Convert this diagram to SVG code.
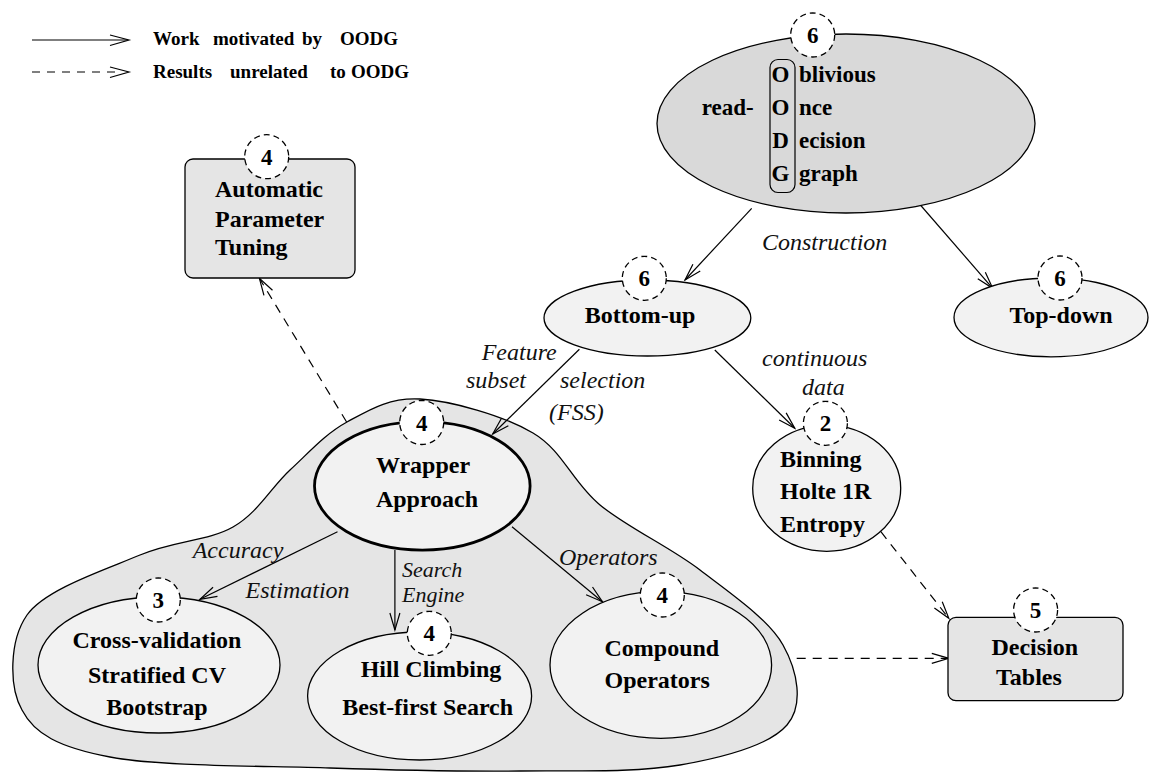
<svg xmlns="http://www.w3.org/2000/svg" width="1152" height="774" viewBox="0 0 1152 774">
<defs>
<style>
.b{font-family:"Liberation Serif","Times New Roman",serif;font-weight:bold;font-size:24px;fill:#000}
.bl{font-family:"Liberation Serif","Times New Roman",serif;font-weight:bold;font-size:19px;fill:#000}
.it{font-family:"Liberation Serif","Times New Roman",serif;font-style:italic;font-size:24px;fill:#111}
.num{font-family:"Liberation Serif","Times New Roman",serif;font-weight:bold;font-size:23px;fill:#000;text-anchor:middle}
.c{text-anchor:middle}
.nd{stroke:#000;stroke-width:1.3}
.badge{fill:#fff;stroke:#000;stroke-width:1.3;stroke-dasharray:6 4}
.solid{fill:none;stroke:#000;stroke-width:1.2;marker-end:url(#ah)}
.dash{fill:none;stroke:#000;stroke-width:1.2;stroke-dasharray:9 7;marker-end:url(#ah)}
</style>
<marker id="ah" viewBox="-18 -7 20 14" refX="0" refY="0" markerWidth="20" markerHeight="14" markerUnits="userSpaceOnUse" orient="auto">
<path d="M-17,-5 L0,0 L-17,5" fill="none" stroke="#000" stroke-width="1.2"/>
</marker>
</defs>
<rect width="1152" height="774" fill="#fff"/>

<g id="legend">
<line x1="32" y1="40" x2="128" y2="40" stroke="#000" stroke-width="1.2"/>
<polyline points="110,35 129,40 110,45.5" fill="none" stroke="#000" stroke-width="1.2"/>
<text class="bl" y="44.5"><tspan x="153">Work</tspan><tspan x="213">motivated</tspan><tspan x="302">by</tspan><tspan x="340">OODG</tspan></text>
<line x1="32" y1="72" x2="118" y2="72" stroke="#000" stroke-width="1.2" stroke-dasharray="8 7"/>
<polyline points="110,67 129,72 110,77.5" fill="none" stroke="#000" stroke-width="1.2"/>
<text class="bl" y="77.5"><tspan x="153">Results</tspan><tspan x="230">unrelated</tspan><tspan x="330">to</tspan><tspan x="351">OODG</tspan></text>
</g>

<g id="wrapper-region">
<path d="M420,399 C451,400.8 503,415.3 533,433 C563,450.7 572.2,482.2 600,505 C627.8,527.8 669.5,546.7 700,570 C730.5,593.3 768.5,619.2 783,645 C797.5,670.8 804.2,705 787,725 C769.8,745 724.5,757.3 680,765 C635.5,772.7 578.3,770.5 520,771 C461.7,771.5 398.3,770.3 330,768 C261.7,765.7 161.7,766.7 110,757 C58.3,747.3 34.2,733.7 22,710 C9,687 9,641 27,615 C45,589.2 105.3,569.7 140,555 C174.7,540.3 208,541.2 233,527 C258,512.8 271,487.5 290,470 C309,452.5 325.3,433.8 347,422 C368.7,410.2 389,397.2 420,399 Z" fill="#e5e5e5" stroke="#000" stroke-width="1.3"/>
</g>

<g id="connectors">
<line class="solid" x1="751.7" y1="208.3" x2="685" y2="280"/>
<line class="solid" x1="911.7" y1="195" x2="992.7" y2="288.3"/>
<line class="solid" x1="579.4" y1="349.3" x2="492.7" y2="434"/>
<line class="solid" x1="714.8" y1="350" x2="794.8" y2="428.3"/>
<line class="solid" x1="337.5" y1="531.7" x2="200" y2="599.3"/>
<line class="solid" x1="394.9" y1="550" x2="394.9" y2="630"/>
<line class="solid" x1="512" y1="526.7" x2="602.4" y2="601.7"/>
<line class="dash" x1="880.9" y1="531.7" x2="948.8" y2="618.3"/>
<line class="dash" x1="796.7" y1="658.3" x2="948.8" y2="658.3"/>
<line class="dash" x1="346.6" y1="422" x2="259.4" y2="278.3"/>
<text class="it" x="762" y="250">Construction</text>
<text class="it" x="481.7" y="360">Feature</text>
<text class="it" x="466" y="388">subset</text>
<text class="it" x="560" y="388">selection</text>
<text class="it" x="549" y="420">(FSS)</text>
<text class="it" x="762" y="366">continuous</text>
<text class="it" x="802" y="395">data</text>
<text class="it" x="192.7" y="558.3">Accuracy</text>
<text class="it" x="245.6" y="598.3">Estimation</text>
<text class="it" x="402" y="576.5" style="font-size:22px">Search</text>
<text class="it" x="402" y="601.5" style="font-size:22px">Engine</text>
<text class="it" x="559" y="565">Operators</text>
</g>

<g id="node-automatic">
<rect x="185" y="159" width="170" height="119" rx="8" fill="#e5e5e5" class="nd"/>
<circle class="badge" cx="266.7" cy="156.7" r="22"/>
<text class="num" x="266.7" y="164.7">4</text>
<text class="b" x="215" y="196.5">Automatic</text>
<text class="b" x="215" y="226.5">Parameter</text>
<text class="b" x="215" y="255">Tuning</text>
</g>

<g id="node-oodg">
<ellipse cx="846" cy="123.5" rx="189" ry="89.5" fill="#d9d9d9" class="nd"/>
<circle class="badge" cx="812.7" cy="35" r="22"/>
<text class="num" x="812.7" y="43">6</text>
<rect x="770" y="59.5" width="25" height="133" rx="8" fill="none" stroke="#000" stroke-width="1.2"/>
<text class="b" x="701.7" y="115" style="font-size:23px">read-</text>
<text class="b c" x="780.5" y="81.7" style="font-size:23px">O</text>
<text class="b c" x="780.5" y="115" style="font-size:23px">O</text>
<text class="b c" x="780.5" y="148" style="font-size:23px">D</text>
<text class="b c" x="780.5" y="180.5" style="font-size:23px">G</text>
<text class="b" x="799" y="81.7" style="font-size:23px">blivious</text>
<text class="b" x="799" y="115" style="font-size:23px">nce</text>
<text class="b" x="799" y="148" style="font-size:23px">ecision</text>
<text class="b" x="799" y="180.5" style="font-size:23px">graph</text>
</g>

<g id="node-bottomup">
<ellipse cx="647.4" cy="318" rx="103.4" ry="38" fill="#f2f2f2" class="nd"/>
<circle class="badge" cx="644.3" cy="278.3" r="22"/>
<text class="num" x="644.3" y="286.3">6</text>
<text class="b c" x="640" y="323.3">Bottom-up</text>
</g>

<g id="node-topdown">
<ellipse cx="1051" cy="317.4" rx="97" ry="39.4" fill="#f2f2f2" class="nd"/>
<circle class="badge" cx="1060" cy="278" r="22"/>
<text class="num" x="1060" y="286">6</text>
<text class="b c" x="1061" y="323">Top-down</text>
</g>

<g id="node-wrapper">
<ellipse cx="422.3" cy="485.9" rx="107.8" ry="64.2" fill="#f2f2f2" stroke="#000" stroke-width="2.8"/>
<circle class="badge" cx="421.7" cy="422.5" r="22"/>
<text class="num" x="421.7" y="430.5">4</text>
<text class="b c" x="423" y="473.3">Wrapper</text>
<text class="b c" x="427" y="506.7">Approach</text>
</g>

<g id="node-binning">
<ellipse cx="826.7" cy="488.3" rx="74" ry="63" fill="#f2f2f2" class="nd"/>
<circle class="badge" cx="825.4" cy="423.3" r="22"/>
<text class="num" x="825.4" y="431.3">2</text>
<text class="b" x="780" y="466.7">Binning</text>
<text class="b" x="780" y="499.3">Holte 1R</text>
<text class="b" x="780" y="531.7">Entropy</text>
</g>

<g id="node-crossval">
<ellipse cx="159" cy="665" rx="121" ry="68" fill="#f2f2f2" class="nd"/>
<circle class="badge" cx="158.3" cy="600" r="22"/>
<text class="num" x="158.3" y="608">3</text>
<text class="b c" x="157" y="648.3">Cross-validation</text>
<text class="b c" x="157" y="683.3">Stratified CV</text>
<text class="b c" x="157" y="715">Bootstrap</text>
</g>

<g id="node-hill">
<ellipse cx="419.6" cy="696" rx="112" ry="64" fill="#f2f2f2" class="nd"/>
<circle class="badge" cx="429.3" cy="633.3" r="22"/>
<text class="num" x="429.3" y="641.3">4</text>
<text class="b c" x="431" y="676.7">Hill Climbing</text>
<text class="b c" x="427.7" y="715">Best-first Search</text>
</g>

<g id="node-compound">
<ellipse cx="660.8" cy="665" rx="110.8" ry="73.3" fill="#f2f2f2" class="nd"/>
<circle class="badge" cx="662.3" cy="595" r="22"/>
<text class="num" x="662.3" y="603">4</text>
<text class="b" x="604.5" y="656">Compound</text>
<text class="b" x="604.5" y="688.3">Operators</text>
</g>

<g id="node-decision">
<rect x="948" y="617.3" width="175" height="83.4" rx="8" fill="#e5e5e5" class="nd"/>
<circle class="badge" cx="1035.6" cy="610" r="22"/>
<text class="num" x="1035.6" y="618">5</text>
<text class="b" x="991.4" y="655">Decision</text>
<text class="b" x="996" y="685">Tables</text>
</g>
</svg>
